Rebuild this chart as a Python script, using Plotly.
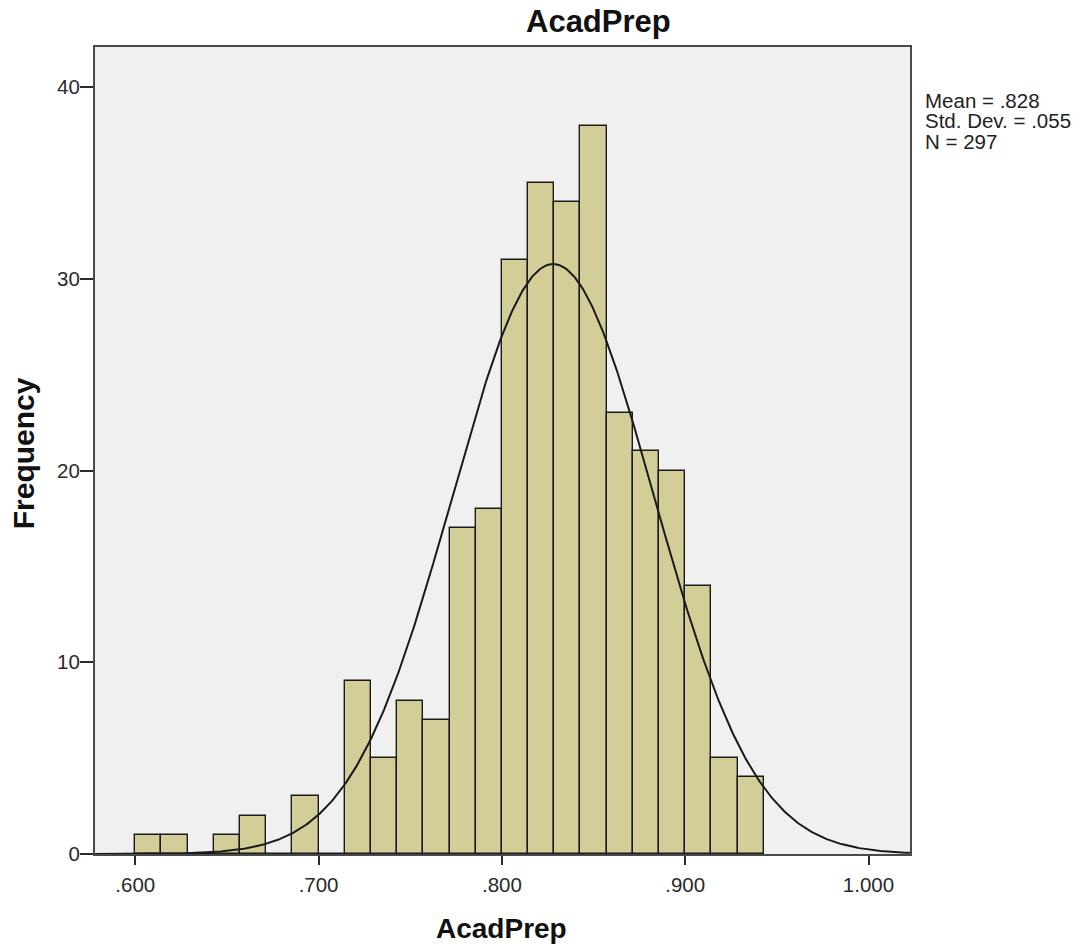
import numpy as np
import plotly.graph_objects as go

# Histogram bins (start, width) and counts
bin_start = 0.600
bin_width = 0.1 / 7
counts = [1, 1, 0, 1, 2, 0, 3, 0, 9, 5, 8, 7, 17, 18, 31, 35, 34, 38, 23, 21, 20, 14, 5, 4]

# Summary statistics shown in the chart
mean_val = 0.828
sd_val = 0.055
n_val = 297
stats_lines = ["Mean = .828", "Std. Dev. = .055", "N = 297"]

x_ticks = [0.6, 0.7, 0.8, 0.9, 1.0]
x_tick_labels = [".600", ".700", ".800", ".900", "1.000"]
y_ticks = [0, 10, 20, 30, 40]

centers = [bin_start + (i + 0.5) * bin_width for i in range(len(counts))]

X0, X1 = 0.57803, 1.02263
xs = np.linspace(X0, X1, 500)
ys = n_val * bin_width * np.exp(-0.5 * ((xs - mean_val) / sd_val) ** 2) / (sd_val * np.sqrt(2 * np.pi))

W, H = 1074, 940
PL, PT, PW, PH = 87.0, 38.5, 815.5, 807.5  # plot area in figure pixels


def px(xf):
    return (xf - PL) / PW


def py(yf):
    return 1 - (yf - PT) / PH


fig = go.Figure()
fig.add_trace(go.Bar(
    x=centers, y=counts, width=bin_width,
    marker=dict(color="#D3CE97", line=dict(color="#1a1a1a", width=1.4)),
    hoverinfo="x+y",
))
fig.add_trace(go.Scatter(
    x=xs, y=ys, mode="lines", line=dict(color="#1a1a1a", width=2), hoverinfo="skip",
))

font = "Liberation Sans, Arial, sans-serif"
fig.update_layout(
    width=W, height=H,
    margin=dict(l=PL, r=W - PL - PW, t=PT, b=H - PT - PH, pad=0),
    paper_bgcolor="white", plot_bgcolor="#F0F0F0",
    showlegend=False, bargap=0,
    font=dict(family=font, color="#2a2a2a", size=20),
    xaxis=dict(
        range=[X0, X1], tickvals=x_ticks, ticktext=x_tick_labels,
        ticks="outside", ticklen=9, tickwidth=2, tickcolor="#2a2a2a",
        showgrid=False, zeroline=False,
        showline=True, linecolor="#4a4a4a", linewidth=2, mirror=True,
        tickfont=dict(size=20.5), ticklabelstandoff=2,
    ),
    yaxis=dict(
        range=[0, 42.1], tickvals=y_ticks,
        ticks="outside", ticklen=13, tickwidth=2, tickcolor="#2a2a2a",
        showgrid=False, zeroline=False,
        showline=True, linecolor="#4a4a4a", linewidth=2, mirror=True,
        tickfont=dict(size=20.5), ticklabelstandoff=-4,
    ),
)
# Chart title
fig.add_annotation(text="<b>AcadPrep</b>", xref="paper", yref="paper",
                   x=px(591), y=py(13), xanchor="center", yanchor="middle",
                   showarrow=False, font=dict(size=31, color="#111111", family=font))
# Axis titles
fig.add_annotation(text="<b>AcadPrep</b>", xref="paper", yref="paper",
                   x=px(494), y=py(921), xanchor="center", yanchor="middle",
                   showarrow=False, font=dict(size=28, color="#111111", family=font))
fig.add_annotation(text="<b>Frequency</b>", xref="paper", yref="paper",
                   x=px(15), y=py(445), xanchor="center", yanchor="middle", textangle=-90,
                   showarrow=False, font=dict(size=30, color="#111111", family=font))
# Statistics box
for i, line in enumerate(stats_lines):
    fig.add_annotation(text=line, xref="paper", yref="paper",
                       x=px(916), y=py(92 + 20.5 * i), xanchor="left", yanchor="middle",
                       align="left", showarrow=False,
                       font=dict(size=20.5, color="#222222", family=font))

fig.write_html("out.html")
